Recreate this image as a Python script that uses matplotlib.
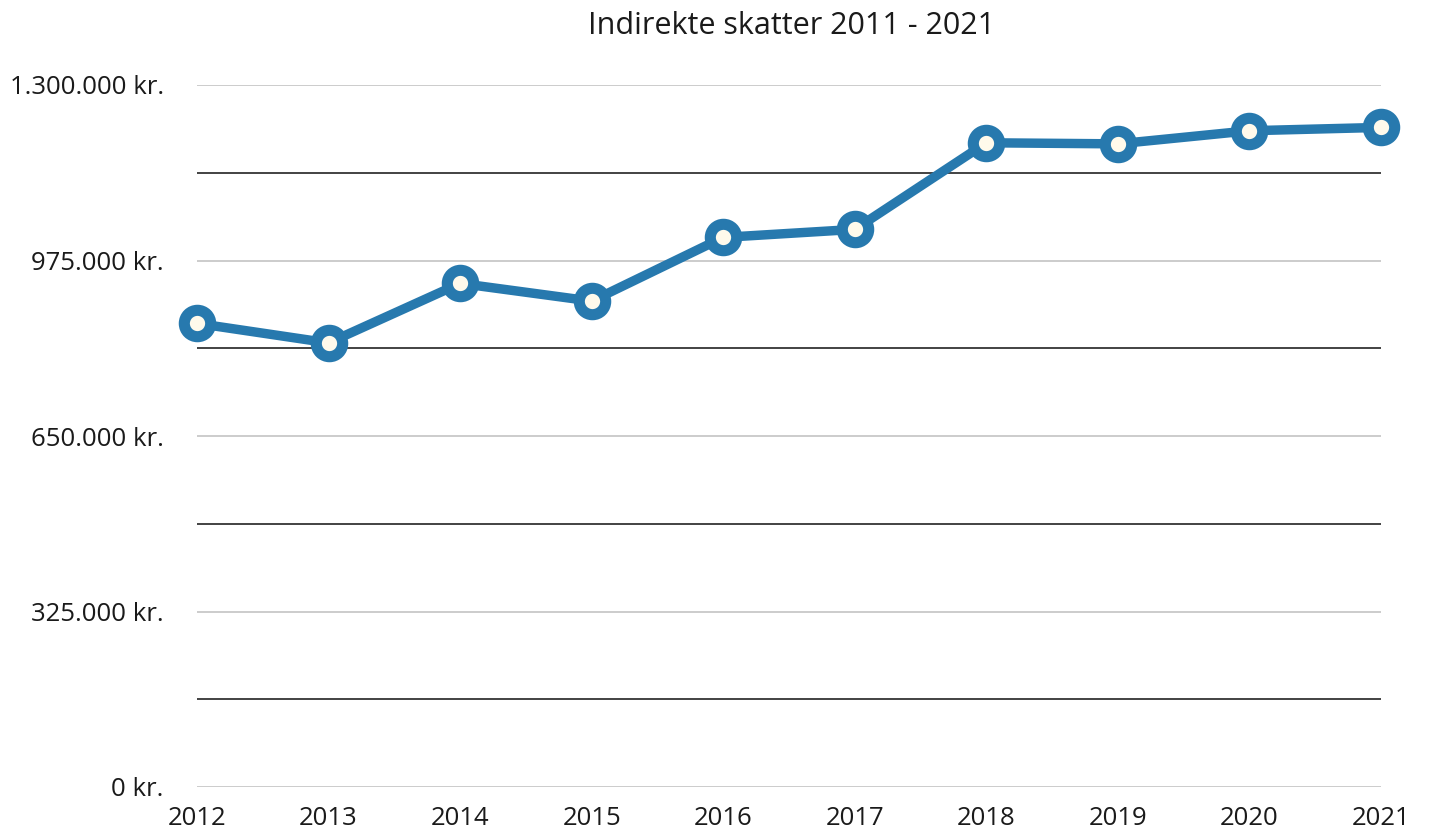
import matplotlib
matplotlib.use("Agg")
import matplotlib.pyplot as plt
from matplotlib.ticker import FixedLocator, FuncFormatter

years = ["2012", "2013", "2014", "2015", "2016", "2017", "2018", "2019", "2020", "2021"]
values = [858500, 822400, 932600, 899800, 1017800, 1032600, 1193000, 1191000, 1215300, 1221500]
major_ticks = [0, 325000, 650000, 975000, 1300000]
minor_ticks = [162500, 487500, 812500, 1137500]
title = "Indirekte skatter 2011 - 2021"

plt.rcParams['font.family'] = ['Open Sans', 'DejaVu Sans']

fig = plt.figure(figsize=(14.33, 8.34), dpi=100)
ax = fig.add_axes([197/1433, 1 - 787/834, (1381 - 197)/1433, (787 - 85)/834])

x = list(range(len(years)))
ax.plot(x, values, color="#2779ae", lw=6.8, marker="o", ms=19, mew=8,
        mfc="#fffaeb", mec="#2779ae", clip_on=False, zorder=5)

ax.set_xlim(0, len(years) - 1)
ax.set_ylim(0, 1300000)
ax.yaxis.set_major_locator(FixedLocator(major_ticks))
ax.yaxis.set_minor_locator(FixedLocator(minor_ticks))

def fmt(v, pos):
    s = f"{int(round(v)):,}".replace(",", ".")
    return f"{s} kr."
ax.yaxis.set_major_formatter(FuncFormatter(fmt))
ax.set_xticks(x)
ax.set_xticklabels(years)

ax.grid(which="major", axis="y", color="#c8c8c8", lw=1.3)
ax.grid(which="minor", axis="y", color="#222222", lw=1.2)
ax.grid(which="major", axis="x", visible=False)
ax.set_axisbelow(True)

for s in ax.spines.values():
    s.set_visible(False)
ax.tick_params(axis="both", which="both", length=0, labelsize=18.5, colors="#1a1a1a")
ax.tick_params(axis="y", pad=24)
ax.tick_params(axis="x", pad=14)

fig.text(792/1433, 1 - 26/834, title, ha="center", va="center", fontsize=22, color="#1a1a1a")

fig.savefig("out.png", dpi=100, facecolor="white")
